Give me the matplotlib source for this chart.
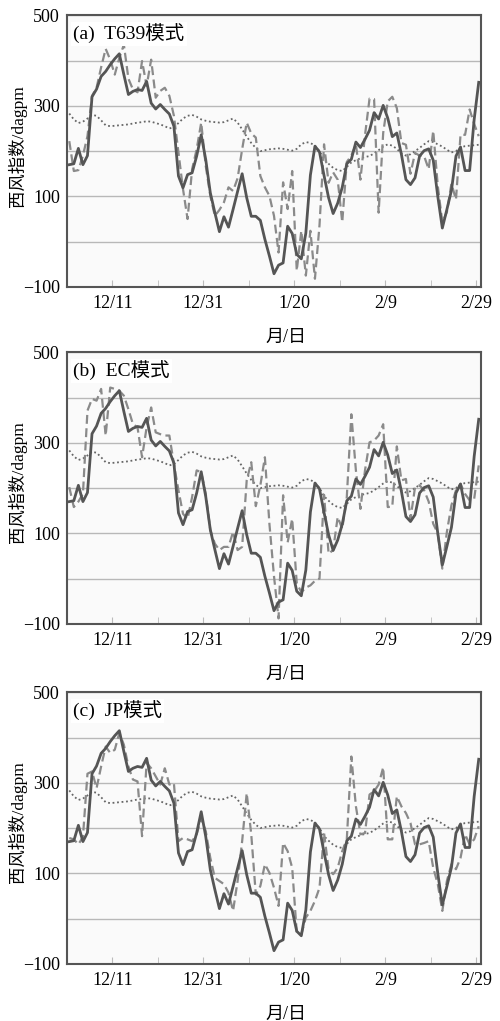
import matplotlib
matplotlib.use("Agg")
import matplotlib.pyplot as plt
import numpy as np

plt.rcParams['font.family'] = ['Liberation Serif', 'Noto Sans CJK SC']
plt.rcParams['axes.unicode_minus'] = True

# 12/1 .. 2/29, one value per day
days = np.arange(91)
tick_pos = [9.5, 19.5, 29.5, 39.5, 49.5, 59.5, 69.5, 79.5, 89.5]
label_pos = [9.5, 29.5, 49.5, 69.5, 89.5]
tick_labels = ['12/11', '12/31', '1/20', '2/9', '2/29']

obs = [170, 172, 206, 170, 190, 320, 337, 365, 376, 391,
       404, 415, 369, 325, 332, 336, 334, 354, 306, 293,
       303, 292, 282, 255, 145, 119, 148, 152, 189, 236,
       181, 108, 64, 22, 55, 32, 71, 111, 150, 97,
       56, 56, 47, 5, -32, -71, -52, -47, 34, 18,
       -28, -38, 19, 147, 211, 198, 146, 97, 62, 85,
       120, 172, 182, 220, 208, 226, 246, 285, 271, 301,
       273, 232, 240, 193, 137, 126, 141, 189, 201, 205,
       180, 100, 30, 71, 113, 189, 209, 157, 157, 270,
       352]

clim = [283, 270, 262, 265, 272, 280, 278, 268, 257, 255,
        256, 257, 258, 259, 261, 263, 264, 266, 265, 262,
        259, 255, 250, 253, 262, 272, 278, 280, 276, 270,
        267, 265, 264, 263, 264, 268, 272, 263, 248, 232,
        218, 207, 200, 202, 204, 205, 206, 205, 203, 201,
        205, 215, 220, 218, 212, 200, 182, 172, 163, 158,
        156, 165, 175, 180, 184, 187, 189, 195, 202, 210,
        215, 212, 205, 195, 190, 193, 200, 207, 215, 222,
        220, 215, 210, 203, 197, 200, 208, 211, 212, 213,
        214]

t639 = [222, 156, 158, 190, 233, 322, 340, 385, 426, 402,
        369, 406, 435, 360, 336, 330, 399, 344, 402, 318,
        333, 340, 322, 278, 197, 116, 50, 160, 204, 263,
        167, 101, 57, 70, 87, 120, 112, 140, 204, 263,
        239, 230, 145, 120, 101, 57, -24, 131, 72, 156,
        -64, 24, -75, 24, -82, 36, 215, 130, 153, 137,
        43, 176, 190, 215, 137, 235, 316, 315, 64, 240,
        310, 320, 295, 218, 214, 150, 196, 190, 189, 160,
        245, 123, 43, 65, 128, 93, 236, 236, 292, 260,
        233]

ec = [202, 158, 170, 187, 371, 397, 393, 419, 316, 422,
      419, 415, 404, 374, 341, 334, 268, 334, 378, 323,
      319, 316, 316, 253, 195, 143, 132, 180, 239, 235,
      187, 107, 77, 63, 70, 70, 103, 63, 70, 217,
      257, 160, 206, 268, 120, 5, -88, 184, 80, 132,
      -10, -30, -20, -15, -5, 0, 185, 55, 63, 136,
      110, 180, 363, 239, 154, 239, 301, 305, 316, 341,
      158, 159, 292, 217, 220, 132, 202, 206, 195, 170,
      121, 100, 22, 103, 162, 195, 209, 187, 173, 176,
      250]

jp = [178, 175, 164, 180, 320, 325, 288, 336, 380, 366,
      373, 410, 384, 336, 307, 303, 182, 344, 332, 314,
      296, 332, 296, 299, 171, 178, 175, 171, 186, 222,
      193, 134, 90, 83, 76, 57, 17, 83, 171, 277,
      186, 53, 72, 120, 101, 68, 28, 167, 149, 112,
      -31, -35, 2, 17, 39, 68, 189, 109, 98, 112,
      149, 175, 358, 248, 186, 189, 274, 281, 296, 334,
      175, 175, 270, 248, 233, 211, 164, 164, 167, 171,
      112, 76, 17, 83, 120, 109, 134, 186, 164, 175,
      204]

panels = [('(a)  T639模式', t639), ('(b)  EC模式', ec), ('(c)  JP模式', jp)]
bottoms = [0.719, 0.389, 0.056]

fig = plt.figure(figsize=(5.0, 10.21), dpi=100)

for (title, model), b in zip(panels, bottoms):
    ax = fig.add_axes([0.134, b, 0.828, 0.266])
    ax.set_facecolor('#fafafa')
    ax.plot(days, clim, color='#666666', lw=1.3, ls=(0, (1, 1.5)), zorder=3)
    ax.plot(days, model, color='#8a8a8a', lw=1.6, ls=(0, (4, 2)), zorder=4)
    ax.plot(days, obs, color='#555555', lw=2.0, zorder=5)

    ax.set_xlim(-0.5, 90.5)
    ax.set_ylim(-100, 500)
    ax.set_yticks([-100, 100, 300, 500])
    ax.set_yticks([0, 200, 400], minor=True)
    ax.grid(True, axis='y', which='both', color='#b8b8b8', lw=1.0, zorder=1)
    ax.tick_params(axis='y', which='both', length=0, labelsize=13, pad=5)

    ax.set_xticks(tick_pos, minor=True)
    ax.set_xticks(label_pos)
    ax.set_xticklabels(tick_labels)
    ax.tick_params(axis='x', which='both', direction='in', length=5,
                   color='#bbbbbb', labelsize=13, pad=6)

    for s in ax.spines.values():
        s.set_color('#555555')
        s.set_linewidth(1.5)

    ax.text(0.015, 0.93, title, transform=ax.transAxes, fontsize=14,
            va='center', ha='left', zorder=6,
            bbox=dict(facecolor='white', edgecolor='none', pad=1.5))

    ax.set_xlabel('月/日', fontsize=13)
    ax.xaxis.set_label_coords(0.53, -0.155)
    ax.set_ylabel('西风指数/dagpm', fontsize=12.5)
    ax.yaxis.set_label_coords(-0.097, 0.52)

fig.savefig('out.png', dpi=100)
